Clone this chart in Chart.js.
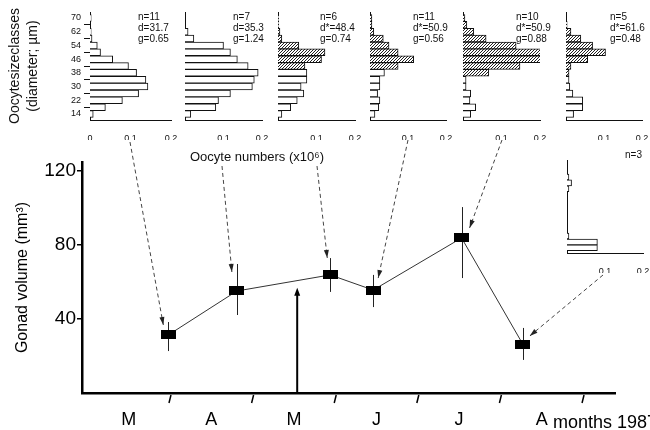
<!DOCTYPE html>
<html><head><meta charset="utf-8">
<script src="https://cdn.jsdelivr.net/npm/chart.js@4"></script>
<style>
html,body{margin:0;padding:0;background:#fff;overflow:hidden;}
#wrap{position:relative;width:650px;height:430px;overflow:hidden;background:#fff;}
#wrap canvas{position:absolute;}
</style></head><body>
<div id="wrap"><canvas id="main" width="650" height="430" style="left:0;top:0"></canvas></div>
<script>
// ---------- data ----------
const months = ['M', 'A', 'M', 'J', 'J', 'A'];
const sampleMonth = [0.98, 1.81, 2.94, 3.46, 4.53, 5.27];   // months after 1 March
const gonadVolume = [31.4, 55.2, 63.9, 55.7, 83.9, 26.5];
const volumeLow = [22.7, 42.2, 54.7, 46.5, 62.2, 17.9];
const volumeHigh = [38.4, 69.8, 73.0, 63.9, 100.6, 35.2];
const volumeTicks = [40, 80, 120];
const spawningMonth = 2.54;
const spawningTop = 57;

const sizeClasses = [14, 18, 22, 26, 30, 34, 38, 42, 46, 50, 54, 58, 62, 66, 70];
const sizeTicks = [14, 22, 30, 38, 46, 54, 62, 70];
const freqTicks = [0, 0.1, 0.2];
const freqP1 = [0.008, 0.038, 0.08, 0.12, 0.143, 0.138, 0.115, 0.095, 0.056, 0.026, 0.018, 0.005, 0.003, 0, 0.003];
const freqP2 = [0.015, 0.08, 0.087, 0.118, 0.175, 0.18, 0.19, 0.164, 0.136, 0.118, 0.1, 0.023, 0.008, 0, 0];
const freqP3 = [0.01, 0.033, 0.05, 0.067, 0.06, 0.075, 0.075, 0.07, 0.113, 0.122, 0.054, 0.01, 0.005, 0.002, 0.002];
const freqP4 = [0.013, 0.023, 0.026, 0.02, 0.026, 0.026, 0.038, 0.074, 0.115, 0.074, 0.05, 0.035, 0.01, 0.005, 0.005];
const freqP5 = [0.02, 0.033, 0.018, 0.02, 0.008, 0.008, 0.067, 0.148, 0.21, 0.225, 0.138, 0.06, 0.028, 0.01, 0.005];
const freqP6 = [0.02, 0.044, 0.044, 0.018, 0.01, 0.008, 0.008, 0.013, 0.057, 0.104, 0.07, 0.039, 0.013, 0.003, 0];
const freqP7 = [0.08, 0.08, 0.005, 0, 0, 0, 0, 0, 0, 0, 0.005, 0.012, 0.005, 0, 0];
const panelN = ['n=11', 'n=7', 'n=6', 'n=11', 'n=10', 'n=5', 'n=3'];
const panelD = ['d=31.7', 'd=35.3', 'd*=48.4', 'd*=50.9', 'd*=50.9', 'd*=61.6', ''];
const panelG = ['g=0.65', 'g=1.24', 'g=0.74', 'g=0.56', 'g=0.88', 'g=0.48', ''];
const hatchFrom = [99, 99, 42, 42, 38, 38, 99];

// ---------- layout ----------
const FAM = "'Liberation Sans', Arial, Helvetica, sans-serif";
Chart.defaults.font.family = FAM;
const panelFreqs = [freqP1, freqP2, freqP3, freqP4, freqP5, freqP6, freqP7];
const panelBox = [
  {x0: 90,  w: 81, top: 12,  bottom: 120, tx: 138, ty: 17, labels: true},
  {x0: 184, w: 78, top: 12,  bottom: 120, tx: 233, ty: 17},
  {x0: 277, w: 78, top: 12,  bottom: 120, tx: 320, ty: 17},
  {x0: 369, w: 77, top: 12,  bottom: 120, tx: 413, ty: 17},
  {x0: 462, w: 78, top: 12,  bottom: 120, tx: 516, ty: 17},
  {x0: 565, w: 77, top: 12,  bottom: 120, tx: 610, ty: 17},
  {x0: 566, w: 77, top: 160, bottom: 253, tx: 625, ty: 155, dashed: true}
];

function makeHatch() {
  const c = document.createElement('canvas');
  c.width = 3; c.height = 3;
  const g = c.getContext('2d');
  g.fillStyle = '#fff'; g.fillRect(0, 0, 3, 3);
  g.fillStyle = '#222';
  g.fillRect(0, 2, 1, 1); g.fillRect(1, 1, 1, 1); g.fillRect(2, 0, 1, 1);
  return g.createPattern(c, 'repeat');
}
const hatchPat = makeHatch();

const wrap = document.getElementById('wrap');
panelBox.forEach((b, k) => {
  const axisW = b.labels ? 90 : 4;
  const cLeft = b.x0 - axisW;
  const cTop = b.top - 12;
  const W = axisW + b.w + 12;
  const H = (b.bottom - cTop) + 20;
  const cv = document.createElement('canvas');
  cv.width = W; cv.height = H;
  cv.style.left = cLeft + 'px'; cv.style.top = cTop + 'px';
  wrap.appendChild(cv);
  const freq = panelFreqs[k];
  const notes = {
    id: 'notes' + k,
    afterDraw(chart) {
      const ctx = chart.ctx;
      ctx.save();
      ctx.fillStyle = '#111';
      ctx.font = '10px ' + FAM;
      ctx.textBaseline = 'middle';
      ctx.textAlign = 'left';
      [panelN[k], panelD[k], panelG[k]].forEach((t, j) => {
        if (t) ctx.fillText(t, b.tx - cLeft, b.ty - cTop + j * 11);
      });
      ctx.restore();
    }
  };
  new Chart(cv, {
    type: 'bar',
    data: {
      datasets: [{
        data: sizeClasses.map((s, i) => ({x: freq[i], y: s})),
        backgroundColor: sizeClasses.map(s => s >= hatchFrom[k] ? hatchPat : '#fff'),
        borderColor: '#111',
        borderWidth: 1,
        borderSkipped: 'start',
        barPercentage: 1,
        categoryPercentage: 1
      }]
    },
    options: {
      indexAxis: 'y',
      responsive: false,
      animation: false,
      devicePixelRatio: 1,
      layout: {padding: {top: 12, right: 12, left: 0, bottom: 0}},
      plugins: {legend: {display: false}, tooltip: {enabled: false}},
      scales: {
        x: {
          type: 'linear', min: 0, max: 0.2,
          afterBuildTicks: s => { s.ticks = freqTicks.map(v => ({value: v})); },
          afterFit: s => { s.height = 20; },
          grid: {display: false},
          border: {color: '#111', width: 1},
          ticks: {
            padding: 5, autoSkip: false, maxRotation: 0, color: '#111',
            font: {size: 9},
            callback: v => (v === 0 ? (b.labels ? '0' : '') : String(v))
          }
        },
        y: {
          type: 'linear', min: 10.5, max: 73.5, offset: false,
          afterBuildTicks: s => { s.ticks = sizeTicks.map(v => ({value: v})); },
          afterFit: s => { s.width = axisW; },
          grid: {display: !!b.labels, drawOnChartArea: false, tickLength: 6, color: '#111'},
          border: {color: '#111', width: 1, dash: b.dashed ? [8, 9] : []},
          ticks: {display: !!b.labels, padding: 3, color: '#111', font: {size: 9}},
          title: b.labels ? {
            display: true,
            text: ['Oocytesizeclasses', '(diameter; µm)'],
            font: {size: 14, lineHeight: 1.29},
            color: '#111',
            padding: {top: 6, bottom: 0}
          } : {display: false}
        }
      }
    },
    plugins: [notes]
  });
});

// ---------- main chart ----------
const ptImg = document.createElement('canvas');
ptImg.width = 15; ptImg.height = 9;
(function () { const g = ptImg.getContext('2d'); g.fillStyle = '#000'; g.fillRect(0, 0, 15, 9); })();

const arrowStart = [[130, 142], [222, 166], [317, 166], [408, 140], [502, 140], [603, 275]];
const arrowEndOffset = [[-5, -10], [-5, -19], [-3, -17], [5, -12], [8, -10], [7, -8]];

function arrowHead(ctx, x1, y1, x2, y2, len, wid) {
  const a = Math.atan2(y2 - y1, x2 - x1);
  ctx.beginPath();
  ctx.moveTo(x2, y2);
  ctx.lineTo(x2 - len * Math.cos(a) + wid * Math.sin(a), y2 - len * Math.sin(a) - wid * Math.cos(a));
  ctx.lineTo(x2 - len * Math.cos(a) - wid * Math.sin(a), y2 - len * Math.sin(a) + wid * Math.cos(a));
  ctx.closePath();
  ctx.fill();
}

const overlay = {
  id: 'overlay',
  beforeDatasetsDraw(chart) {
    const {ctx, scales: {x, y}} = chart;
    ctx.save();
    ctx.strokeStyle = '#222';
    ctx.lineWidth = 1;
    sampleMonth.forEach((m, i) => {
      const px = Math.round(x.getPixelForValue(m)) + 0.5;
      ctx.beginPath();
      ctx.moveTo(px, y.getPixelForValue(volumeHigh[i]));
      ctx.lineTo(px, y.getPixelForValue(volumeLow[i]));
      ctx.stroke();
    });
    ctx.restore();
  },
  afterDraw(chart) {
    const {ctx, scales: {x, y}} = chart;
    ctx.save();
    // month boundary ticks
    ctx.strokeStyle = '#000';
    ctx.lineWidth = 1.5;
    const yb = y.getPixelForValue(0);
    for (let m = 1; m <= months.length; m++) {
      const px = x.getPixelForValue(m);
      ctx.beginPath();
      ctx.moveTo(px + 1, yb + 2);
      ctx.lineTo(px - 1, yb + 10);
      ctx.stroke();
    }
    // spawning arrow
    const sx = x.getPixelForValue(spawningMonth);
    const sTop = y.getPixelForValue(spawningTop);
    ctx.lineWidth = 2;
    ctx.beginPath();
    ctx.moveTo(sx, yb);
    ctx.lineTo(sx, sTop + 6);
    ctx.stroke();
    ctx.fillStyle = '#000';
    arrowHead(ctx, sx, yb, sx, sTop, 8, 3);
    // dashed arrows from histograms
    ctx.strokeStyle = '#444';
    ctx.fillStyle = '#222';
    ctx.lineWidth = 1;
    arrowStart.forEach((s, i) => {
      const ex = x.getPixelForValue(sampleMonth[i]) + arrowEndOffset[i][0];
      const ey = y.getPixelForValue(gonadVolume[i]) + arrowEndOffset[i][1];
      ctx.setLineDash([4, 3]);
      ctx.beginPath();
      ctx.moveTo(s[0], s[1]);
      ctx.lineTo(ex, ey);
      ctx.stroke();
      ctx.setLineDash([]);
      arrowHead(ctx, s[0], s[1], ex, ey, 8, 2.5);
    });
    // texts
    ctx.fillStyle = '#111';
    ctx.font = '13px ' + FAM;
    ctx.textBaseline = 'middle';
    ctx.textAlign = 'left';
    ctx.fillText('Oocyte numbers (x10⁶)', 190, 157);
    ctx.fillStyle = '#000';
    ctx.font = '18px ' + FAM;
    ctx.textBaseline = 'alphabetic';
    ctx.fillText('months 1987', 553, 428);
    ctx.restore();
  }
};

new Chart(document.getElementById('main'), {
  type: 'line',
  data: {
    datasets: [{
      data: sampleMonth.map((m, i) => ({x: m, y: gonadVolume[i]})),
      borderColor: '#333',
      borderWidth: 1,
      pointStyle: ptImg,
      pointRadius: 8,
      tension: 0,
      fill: false
    }]
  },
  options: {
    responsive: false,
    animation: false,
    devicePixelRatio: 1,
    layout: {padding: {left: 0, top: 162, right: 35, bottom: 0}},
    plugins: {legend: {display: false}, tooltip: {enabled: false}},
    scales: {
      x: {
        type: 'linear', min: -0.065, max: 6.387,
        afterBuildTicks: s => { s.ticks = months.map((m, i) => ({value: i + 0.5})); },
        afterFit: s => { s.height = 37; },
        grid: {display: false},
        border: {color: '#000', width: 2.5},
        ticks: {
          padding: 8, autoSkip: false, maxRotation: 0, color: '#000',
          font: {size: 18},
          callback: (v, i) => months[i]
        }
      },
      y: {
        type: 'linear', min: 0, max: 125,
        afterBuildTicks: s => { s.ticks = volumeTicks.map(v => ({value: v})); },
        afterFit: s => { s.width = 82; },
        grid: {drawOnChartArea: false, tickLength: 5, color: '#000', lineWidth: 1.5},
        border: {color: '#000', width: 2.5},
        ticks: {padding: 1, color: '#000', font: {size: 19}},
        title: {
          display: true,
          text: 'Gonad volume (mm³)',
          font: {size: 16},
          color: '#000',
          padding: {top: 13, bottom: 0}
        }
      }
    }
  },
  plugins: [overlay]
});
</script>
</body></html>
